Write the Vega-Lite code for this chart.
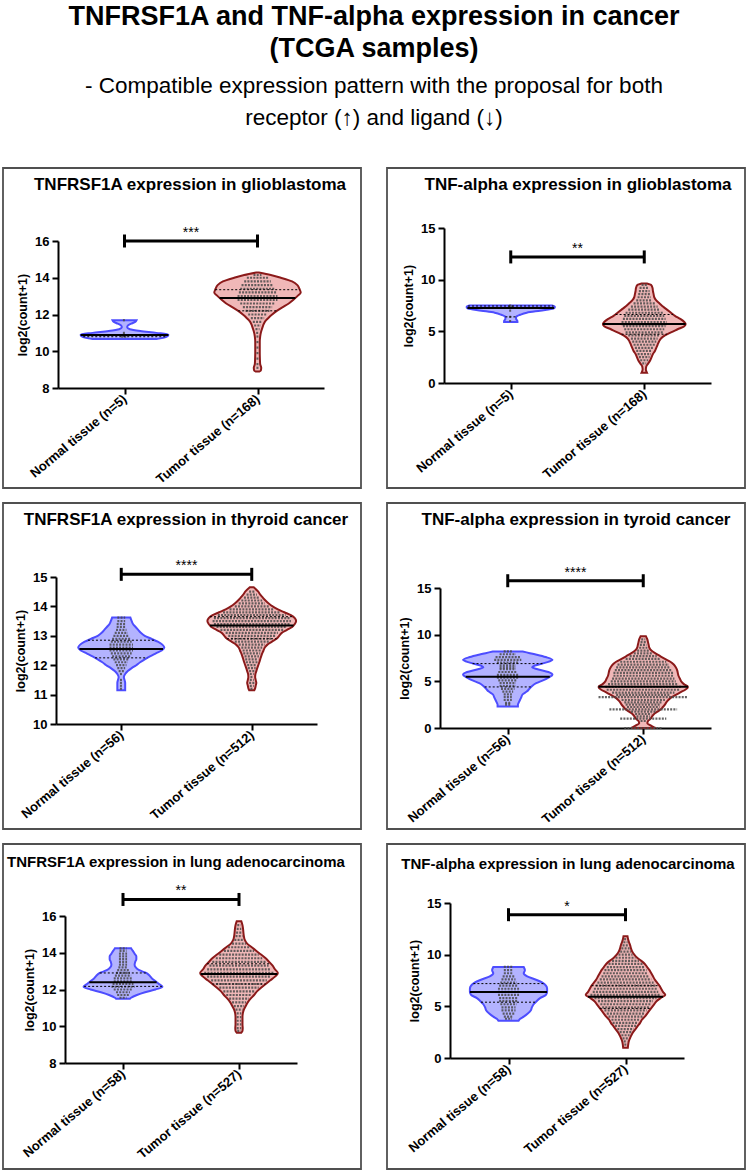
{
"$schema": "https://vega.github.io/schema/vega-lite/v6.json",
"background": "white",
"padding": {"left": 2, "top": 2, "right": 0, "bottom": 0},
"title": {"text": ["TNFRSF1A and TNF-alpha expression in cancer", "(TCGA samples)"], "subtitle": ["- Compatible expression pattern with the proposal for both", "receptor  (↑) and ligand (↓)"], "anchor": "middle", "font": "Liberation Sans", "fontSize": 27, "fontWeight": "bold", "lineHeight": 32, "color": "black", "subtitleFont": "Liberation Sans", "subtitleFontSize": 22.5, "subtitleLineHeight": 32, "subtitleColor": "black", "subtitlePadding": 12, "offset": 37},
"columns": 2,
"spacing": {"row": 15, "column": 26},
"bounds": "flush",
"concat": [
{"width": 358, "height": 320,
 "title": {"text": "TNFRSF1A expression in glioblastoma", "anchor": "middle", "frame": "group", "offset": -23, "dy": 16, "baseline": "alphabetic", "dx": 8},
 "layer": [
  {"data": {"name": "outline"}, "transform": [{"filter": "datum.p == 1"}],
   "mark": {"type": "area", "orient": "horizontal", "interpolate": "monotone", "strokeWidth": 2},
   "encoding": {
    "y": {"field": "v", "type": "quantitative", "scale": {"domain": [8, 16], "range": [220, 73], "nice": false, "zero": false}, "axis": {"title": "log2(count+1)", "values": [8, 10, 12, 14, 16], "format": "d", "offset": -55}},
    "x": {"field": "l", "type": "quantitative", "scale": {"domain": [0.5, 2.5], "range": [55, 321], "nice": false, "zero": false}, "axis": {"title": null, "values": [1, 2], "offset": -100, "labelExpr": "datum.value == 1 ? 'Normal tissue (n=5)' : 'Tumor tissue (n=168)'"}},
    "x2": {"field": "r"}, "detail": {"field": "g"},
    "fill": {"field": "g", "type": "nominal", "scale": {"domain": ["N", "T"], "range": ["#b3b3ff", "#f0b8b8"]}, "legend": null},
    "stroke": {"field": "g", "type": "nominal", "scale": {"domain": ["N", "T"], "range": ["#4d4dff", "#8b1a1a"]}, "legend": null}}},
  {"data": {"name": "outline"}, "transform": [{"filter": "datum.p == 1 && datum.dr > datum.dl"}],
   "mark": {"type": "rule", "color": "#4a4a4a", "strokeWidth": 2.2, "strokeDash": [2, 1.2], "opacity": 0.85},
   "encoding": {"y": {"field": "v", "type": "quantitative"}, "x": {"field": "dl", "type": "quantitative"}, "x2": {"field": "dr"}}},
  {"data": {"name": "stats"}, "transform": [{"filter": "datum.p == 1 && datum.k == 'q'"}],
   "mark": {"type": "rule", "color": "black", "strokeWidth": 1, "strokeDash": [2, 2]},
   "encoding": {"y": {"field": "v", "type": "quantitative"}, "x": {"field": "l", "type": "quantitative"}, "x2": {"field": "r"}}},
  {"data": {"name": "stats"}, "transform": [{"filter": "datum.p == 1 && datum.k == 'med'"}],
   "mark": {"type": "rule", "color": "black", "strokeWidth": 2},
   "encoding": {"y": {"field": "v", "type": "quantitative"}, "x": {"field": "l", "type": "quantitative"}, "x2": {"field": "r"}}},
  {"data": {"name": "brackets"}, "transform": [{"filter": "datum.p == 1"}],
   "mark": {"type": "rule", "color": "black", "strokeWidth": 3},
   "encoding": {"y": {"field": "v", "type": "quantitative"}, "x": {"field": "a", "type": "quantitative"}, "x2": {"field": "b"}}},
  {"data": {"name": "brackets"}, "transform": [{"filter": "datum.p == 1"}, {"fold": ["a", "b"], "as": ["end", "pos"]}],
   "mark": {"type": "tick", "orient": "vertical", "color": "black", "size": 13, "thickness": 3, "opacity": 1},
   "encoding": {"y": {"field": "v", "type": "quantitative"}, "x": {"field": "pos", "type": "quantitative"}}},
  {"data": {"name": "brackets"}, "transform": [{"filter": "datum.p == 1"}],
   "mark": {"type": "text", "font": "Liberation Sans", "fontSize": 14, "dy": -4, "baseline": "alphabetic", "color": "black"},
   "encoding": {"y": {"field": "v", "type": "quantitative"}, "x": {"field": "m", "type": "quantitative"}, "text": {"field": "s"}}}
 ]},
{"width": 358, "height": 320,
 "title": {"text": "TNF-alpha expression in glioblastoma", "anchor": "middle", "frame": "group", "offset": -23, "dy": 16, "baseline": "alphabetic", "dx": 12},
 "layer": [
  {"data": {"name": "outline"}, "transform": [{"filter": "datum.p == 2"}],
   "mark": {"type": "area", "orient": "horizontal", "interpolate": "monotone", "strokeWidth": 2},
   "encoding": {
    "y": {"field": "v", "type": "quantitative", "scale": {"domain": [0, 15], "range": [215, 60], "nice": false, "zero": false}, "axis": {"title": "log2(count+1)", "values": [0, 5, 10, 15], "format": "d", "offset": -57}},
    "x": {"field": "l", "type": "quantitative", "scale": {"domain": [0.5, 2.5], "range": [57, 324], "nice": false, "zero": false}, "axis": {"title": null, "values": [1, 2], "offset": -105, "labelExpr": "datum.value == 1 ? 'Normal tissue (n=5)' : 'Tumor tissue (n=168)'"}},
    "x2": {"field": "r"}, "detail": {"field": "g"},
    "fill": {"field": "g", "type": "nominal", "scale": {"domain": ["N", "T"], "range": ["#b3b3ff", "#f0b8b8"]}, "legend": null},
    "stroke": {"field": "g", "type": "nominal", "scale": {"domain": ["N", "T"], "range": ["#4d4dff", "#8b1a1a"]}, "legend": null}}},
  {"data": {"name": "outline"}, "transform": [{"filter": "datum.p == 2 && datum.dr > datum.dl"}],
   "mark": {"type": "rule", "color": "#4a4a4a", "strokeWidth": 2.2, "strokeDash": [2, 1.2], "opacity": 0.85},
   "encoding": {"y": {"field": "v", "type": "quantitative"}, "x": {"field": "dl", "type": "quantitative"}, "x2": {"field": "dr"}}},
  {"data": {"name": "stats"}, "transform": [{"filter": "datum.p == 2 && datum.k == 'q'"}],
   "mark": {"type": "rule", "color": "black", "strokeWidth": 1, "strokeDash": [2, 2]},
   "encoding": {"y": {"field": "v", "type": "quantitative"}, "x": {"field": "l", "type": "quantitative"}, "x2": {"field": "r"}}},
  {"data": {"name": "stats"}, "transform": [{"filter": "datum.p == 2 && datum.k == 'med'"}],
   "mark": {"type": "rule", "color": "black", "strokeWidth": 2},
   "encoding": {"y": {"field": "v", "type": "quantitative"}, "x": {"field": "l", "type": "quantitative"}, "x2": {"field": "r"}}},
  {"data": {"name": "brackets"}, "transform": [{"filter": "datum.p == 2"}],
   "mark": {"type": "rule", "color": "black", "strokeWidth": 3},
   "encoding": {"y": {"field": "v", "type": "quantitative"}, "x": {"field": "a", "type": "quantitative"}, "x2": {"field": "b"}}},
  {"data": {"name": "brackets"}, "transform": [{"filter": "datum.p == 2"}, {"fold": ["a", "b"], "as": ["end", "pos"]}],
   "mark": {"type": "tick", "orient": "vertical", "color": "black", "size": 13, "thickness": 3, "opacity": 1},
   "encoding": {"y": {"field": "v", "type": "quantitative"}, "x": {"field": "pos", "type": "quantitative"}}},
  {"data": {"name": "brackets"}, "transform": [{"filter": "datum.p == 2"}],
   "mark": {"type": "text", "font": "Liberation Sans", "fontSize": 14, "dy": -4, "baseline": "alphabetic", "color": "black"},
   "encoding": {"y": {"field": "v", "type": "quantitative"}, "x": {"field": "m", "type": "quantitative"}, "text": {"field": "s"}}}
 ]},
{"width": 358, "height": 326,
 "title": {"text": "TNFRSF1A expression in thyroid cancer", "anchor": "middle", "frame": "group", "offset": -23, "dy": 16, "baseline": "alphabetic", "dx": 4},
 "layer": [
  {"data": {"name": "outline"}, "transform": [{"filter": "datum.p == 3"}],
   "mark": {"type": "area", "orient": "horizontal", "interpolate": "monotone", "strokeWidth": 2},
   "encoding": {
    "y": {"field": "v", "type": "quantitative", "scale": {"domain": [10, 15], "range": [221, 74], "nice": false, "zero": false}, "axis": {"title": "log2(count+1)", "values": [10, 11, 12, 13, 14, 15], "format": "d", "offset": -53}},
    "x": {"field": "l", "type": "quantitative", "scale": {"domain": [0.5, 2.5], "range": [53, 314], "nice": false, "zero": false}, "axis": {"title": null, "values": [1, 2], "offset": -105, "labelExpr": "datum.value == 1 ? 'Normal tissue (n=56)' : 'Tumor tissue (n=512)'"}},
    "x2": {"field": "r"}, "detail": {"field": "g"},
    "fill": {"field": "g", "type": "nominal", "scale": {"domain": ["N", "T"], "range": ["#b3b3ff", "#f0b8b8"]}, "legend": null},
    "stroke": {"field": "g", "type": "nominal", "scale": {"domain": ["N", "T"], "range": ["#4d4dff", "#8b1a1a"]}, "legend": null}}},
  {"data": {"name": "outline"}, "transform": [{"filter": "datum.p == 3 && datum.dr > datum.dl"}],
   "mark": {"type": "rule", "color": "#4a4a4a", "strokeWidth": 2.2, "strokeDash": [2, 1.2], "opacity": 0.85},
   "encoding": {"y": {"field": "v", "type": "quantitative"}, "x": {"field": "dl", "type": "quantitative"}, "x2": {"field": "dr"}}},
  {"data": {"name": "stats"}, "transform": [{"filter": "datum.p == 3 && datum.k == 'q'"}],
   "mark": {"type": "rule", "color": "black", "strokeWidth": 1, "strokeDash": [2, 2]},
   "encoding": {"y": {"field": "v", "type": "quantitative"}, "x": {"field": "l", "type": "quantitative"}, "x2": {"field": "r"}}},
  {"data": {"name": "stats"}, "transform": [{"filter": "datum.p == 3 && datum.k == 'med'"}],
   "mark": {"type": "rule", "color": "black", "strokeWidth": 2},
   "encoding": {"y": {"field": "v", "type": "quantitative"}, "x": {"field": "l", "type": "quantitative"}, "x2": {"field": "r"}}},
  {"data": {"name": "brackets"}, "transform": [{"filter": "datum.p == 3"}],
   "mark": {"type": "rule", "color": "black", "strokeWidth": 3},
   "encoding": {"y": {"field": "v", "type": "quantitative"}, "x": {"field": "a", "type": "quantitative"}, "x2": {"field": "b"}}},
  {"data": {"name": "brackets"}, "transform": [{"filter": "datum.p == 3"}, {"fold": ["a", "b"], "as": ["end", "pos"]}],
   "mark": {"type": "tick", "orient": "vertical", "color": "black", "size": 13, "thickness": 3, "opacity": 1},
   "encoding": {"y": {"field": "v", "type": "quantitative"}, "x": {"field": "pos", "type": "quantitative"}}},
  {"data": {"name": "brackets"}, "transform": [{"filter": "datum.p == 3"}],
   "mark": {"type": "text", "font": "Liberation Sans", "fontSize": 14, "dy": -4, "baseline": "alphabetic", "color": "black"},
   "encoding": {"y": {"field": "v", "type": "quantitative"}, "x": {"field": "m", "type": "quantitative"}, "text": {"field": "s"}}}
 ]},
{"width": 358, "height": 326,
 "title": {"text": "TNF-alpha expression in tyroid cancer", "anchor": "middle", "frame": "group", "offset": -23, "dy": 16, "baseline": "alphabetic", "dx": 10},
 "layer": [
  {"data": {"name": "outline"}, "transform": [{"filter": "datum.p == 4"}],
   "mark": {"type": "area", "orient": "horizontal", "interpolate": "monotone", "strokeWidth": 2},
   "encoding": {
    "y": {"field": "v", "type": "quantitative", "scale": {"domain": [0, 15], "range": [225, 85], "nice": false, "zero": false}, "axis": {"title": "log2(count+1)", "values": [0, 5, 10, 15], "format": "d", "offset": -53}},
    "x": {"field": "l", "type": "quantitative", "scale": {"domain": [0.5, 2.5], "range": [53, 324], "nice": false, "zero": false}, "axis": {"title": null, "values": [1, 2], "offset": -101, "labelExpr": "datum.value == 1 ? 'Normal tissue (n=56)' : 'Tumor tissue (n=512)'"}},
    "x2": {"field": "r"}, "detail": {"field": "g"},
    "fill": {"field": "g", "type": "nominal", "scale": {"domain": ["N", "T"], "range": ["#b3b3ff", "#f0b8b8"]}, "legend": null},
    "stroke": {"field": "g", "type": "nominal", "scale": {"domain": ["N", "T"], "range": ["#4d4dff", "#8b1a1a"]}, "legend": null}}},
  {"data": {"name": "outline"}, "transform": [{"filter": "datum.p == 4 && datum.dr > datum.dl"}],
   "mark": {"type": "rule", "color": "#4a4a4a", "strokeWidth": 2.2, "strokeDash": [2, 1.2], "opacity": 0.85},
   "encoding": {"y": {"field": "v", "type": "quantitative"}, "x": {"field": "dl", "type": "quantitative"}, "x2": {"field": "dr"}}},
  {"data": {"name": "stats"}, "transform": [{"filter": "datum.p == 4 && datum.k == 'q'"}],
   "mark": {"type": "rule", "color": "black", "strokeWidth": 1, "strokeDash": [2, 2]},
   "encoding": {"y": {"field": "v", "type": "quantitative"}, "x": {"field": "l", "type": "quantitative"}, "x2": {"field": "r"}}},
  {"data": {"name": "stats"}, "transform": [{"filter": "datum.p == 4 && datum.k == 'med'"}],
   "mark": {"type": "rule", "color": "black", "strokeWidth": 2},
   "encoding": {"y": {"field": "v", "type": "quantitative"}, "x": {"field": "l", "type": "quantitative"}, "x2": {"field": "r"}}},
  {"data": {"name": "brackets"}, "transform": [{"filter": "datum.p == 4"}],
   "mark": {"type": "rule", "color": "black", "strokeWidth": 3},
   "encoding": {"y": {"field": "v", "type": "quantitative"}, "x": {"field": "a", "type": "quantitative"}, "x2": {"field": "b"}}},
  {"data": {"name": "brackets"}, "transform": [{"filter": "datum.p == 4"}, {"fold": ["a", "b"], "as": ["end", "pos"]}],
   "mark": {"type": "tick", "orient": "vertical", "color": "black", "size": 13, "thickness": 3, "opacity": 1},
   "encoding": {"y": {"field": "v", "type": "quantitative"}, "x": {"field": "pos", "type": "quantitative"}}},
  {"data": {"name": "brackets"}, "transform": [{"filter": "datum.p == 4"}],
   "mark": {"type": "text", "font": "Liberation Sans", "fontSize": 14, "dy": -4, "baseline": "alphabetic", "color": "black"},
   "encoding": {"y": {"field": "v", "type": "quantitative"}, "x": {"field": "m", "type": "quantitative"}, "text": {"field": "s"}}}
 ]},
{"width": 358, "height": 325,
 "title": {"text": "TNFRSF1A expression in lung adenocarcinoma", "anchor": "middle", "frame": "group", "offset": -22, "dy": 16, "baseline": "alphabetic", "dx": -6, "fontSize": 15},
 "layer": [
  {"data": {"name": "outline"}, "transform": [{"filter": "datum.p == 5"}],
   "mark": {"type": "area", "orient": "horizontal", "interpolate": "monotone", "strokeWidth": 2},
   "encoding": {
    "y": {"field": "v", "type": "quantitative", "scale": {"domain": [8, 16], "range": [219, 72], "nice": false, "zero": false}, "axis": {"title": "log2(count+1)", "values": [8, 10, 12, 14, 16], "format": "d", "offset": -62}},
    "x": {"field": "l", "type": "quantitative", "scale": {"domain": [0.5, 2.5], "range": [62, 294], "nice": false, "zero": false}, "axis": {"title": null, "values": [1, 2], "offset": -106, "labelExpr": "datum.value == 1 ? 'Normal tissue (n=58)' : 'Tumor tissue (n=527)'"}},
    "x2": {"field": "r"}, "detail": {"field": "g"},
    "fill": {"field": "g", "type": "nominal", "scale": {"domain": ["N", "T"], "range": ["#b3b3ff", "#f0b8b8"]}, "legend": null},
    "stroke": {"field": "g", "type": "nominal", "scale": {"domain": ["N", "T"], "range": ["#4d4dff", "#8b1a1a"]}, "legend": null}}},
  {"data": {"name": "outline"}, "transform": [{"filter": "datum.p == 5 && datum.dr > datum.dl"}],
   "mark": {"type": "rule", "color": "#4a4a4a", "strokeWidth": 2.2, "strokeDash": [2, 1.2], "opacity": 0.85},
   "encoding": {"y": {"field": "v", "type": "quantitative"}, "x": {"field": "dl", "type": "quantitative"}, "x2": {"field": "dr"}}},
  {"data": {"name": "stats"}, "transform": [{"filter": "datum.p == 5 && datum.k == 'q'"}],
   "mark": {"type": "rule", "color": "black", "strokeWidth": 1, "strokeDash": [2, 2]},
   "encoding": {"y": {"field": "v", "type": "quantitative"}, "x": {"field": "l", "type": "quantitative"}, "x2": {"field": "r"}}},
  {"data": {"name": "stats"}, "transform": [{"filter": "datum.p == 5 && datum.k == 'med'"}],
   "mark": {"type": "rule", "color": "black", "strokeWidth": 2},
   "encoding": {"y": {"field": "v", "type": "quantitative"}, "x": {"field": "l", "type": "quantitative"}, "x2": {"field": "r"}}},
  {"data": {"name": "brackets"}, "transform": [{"filter": "datum.p == 5"}],
   "mark": {"type": "rule", "color": "black", "strokeWidth": 3},
   "encoding": {"y": {"field": "v", "type": "quantitative"}, "x": {"field": "a", "type": "quantitative"}, "x2": {"field": "b"}}},
  {"data": {"name": "brackets"}, "transform": [{"filter": "datum.p == 5"}, {"fold": ["a", "b"], "as": ["end", "pos"]}],
   "mark": {"type": "tick", "orient": "vertical", "color": "black", "size": 13, "thickness": 3, "opacity": 1},
   "encoding": {"y": {"field": "v", "type": "quantitative"}, "x": {"field": "pos", "type": "quantitative"}}},
  {"data": {"name": "brackets"}, "transform": [{"filter": "datum.p == 5"}],
   "mark": {"type": "text", "font": "Liberation Sans", "fontSize": 14, "dy": -4, "baseline": "alphabetic", "color": "black"},
   "encoding": {"y": {"field": "v", "type": "quantitative"}, "x": {"field": "m", "type": "quantitative"}, "text": {"field": "s"}}}
 ]},
{"width": 358, "height": 325,
 "title": {"text": "TNF-alpha expression in lung adenocarcinoma", "anchor": "middle", "frame": "group", "offset": -24, "dy": 16, "baseline": "alphabetic", "dx": 2, "fontSize": 15},
 "layer": [
  {"data": {"name": "outline"}, "transform": [{"filter": "datum.p == 6"}],
   "mark": {"type": "area", "orient": "horizontal", "interpolate": "monotone", "strokeWidth": 2},
   "encoding": {
    "y": {"field": "v", "type": "quantitative", "scale": {"domain": [0, 15], "range": [214, 59], "nice": false, "zero": false}, "axis": {"title": "log2(count+1)", "values": [0, 5, 10, 15], "format": "d", "offset": -63}},
    "x": {"field": "l", "type": "quantitative", "scale": {"domain": [0.5, 2.5], "range": [63, 297], "nice": false, "zero": false}, "axis": {"title": null, "values": [1, 2], "offset": -111, "labelExpr": "datum.value == 1 ? 'Normal tissue (n=58)' : 'Tumor tissue (n=527)'"}},
    "x2": {"field": "r"}, "detail": {"field": "g"},
    "fill": {"field": "g", "type": "nominal", "scale": {"domain": ["N", "T"], "range": ["#b3b3ff", "#f0b8b8"]}, "legend": null},
    "stroke": {"field": "g", "type": "nominal", "scale": {"domain": ["N", "T"], "range": ["#4d4dff", "#8b1a1a"]}, "legend": null}}},
  {"data": {"name": "outline"}, "transform": [{"filter": "datum.p == 6 && datum.dr > datum.dl"}],
   "mark": {"type": "rule", "color": "#4a4a4a", "strokeWidth": 2.2, "strokeDash": [2, 1.2], "opacity": 0.85},
   "encoding": {"y": {"field": "v", "type": "quantitative"}, "x": {"field": "dl", "type": "quantitative"}, "x2": {"field": "dr"}}},
  {"data": {"name": "stats"}, "transform": [{"filter": "datum.p == 6 && datum.k == 'q'"}],
   "mark": {"type": "rule", "color": "black", "strokeWidth": 1, "strokeDash": [2, 2]},
   "encoding": {"y": {"field": "v", "type": "quantitative"}, "x": {"field": "l", "type": "quantitative"}, "x2": {"field": "r"}}},
  {"data": {"name": "stats"}, "transform": [{"filter": "datum.p == 6 && datum.k == 'med'"}],
   "mark": {"type": "rule", "color": "black", "strokeWidth": 2},
   "encoding": {"y": {"field": "v", "type": "quantitative"}, "x": {"field": "l", "type": "quantitative"}, "x2": {"field": "r"}}},
  {"data": {"name": "brackets"}, "transform": [{"filter": "datum.p == 6"}],
   "mark": {"type": "rule", "color": "black", "strokeWidth": 3},
   "encoding": {"y": {"field": "v", "type": "quantitative"}, "x": {"field": "a", "type": "quantitative"}, "x2": {"field": "b"}}},
  {"data": {"name": "brackets"}, "transform": [{"filter": "datum.p == 6"}, {"fold": ["a", "b"], "as": ["end", "pos"]}],
   "mark": {"type": "tick", "orient": "vertical", "color": "black", "size": 13, "thickness": 3, "opacity": 1},
   "encoding": {"y": {"field": "v", "type": "quantitative"}, "x": {"field": "pos", "type": "quantitative"}}},
  {"data": {"name": "brackets"}, "transform": [{"filter": "datum.p == 6"}],
   "mark": {"type": "text", "font": "Liberation Sans", "fontSize": 14, "dy": -4, "baseline": "alphabetic", "color": "black"},
   "encoding": {"y": {"field": "v", "type": "quantitative"}, "x": {"field": "m", "type": "quantitative"}, "text": {"field": "s"}}}
 ]}
],
"datasets": {
"brackets": [
 {"p": 1, "a": 1, "b": 2, "m": 1.5, "v": 16, "s": "***"},
 {"p": 2, "a": 1, "b": 2, "m": 1.5, "v": 12.2, "s": "**"},
 {"p": 3, "a": 1, "b": 2, "m": 1.5, "v": 15.09, "s": "****"},
 {"p": 4, "a": 1, "b": 2, "m": 1.5, "v": 15.78, "s": "****"},
 {"p": 5, "a": 1, "b": 2, "m": 1.5, "v": 16.9, "s": "**"},
 {"p": 6, "a": 1, "b": 2, "m": 1.5, "v": 13.87, "s": "*"}
],
"stats": [
 {"p": 1, "k": "med", "v": 10.88, "l": 0.67, "r": 1.33},
 {"p": 1, "k": "q", "v": 10.79, "l": 0.69, "r": 1.31},
 {"p": 1, "k": "med", "v": 12.9, "l": 1.715, "r": 2.285},
 {"p": 1, "k": "q", "v": 13.35, "l": 1.682, "r": 2.318},
 {"p": 1, "k": "q", "v": 12.2, "l": 1.855, "r": 2.145},
 {"p": 2, "k": "med", "v": 7.25, "l": 0.675, "r": 1.325},
 {"p": 2, "k": "q", "v": 7.45, "l": 0.68, "r": 1.32},
 {"p": 2, "k": "q", "v": 6.4, "l": 0.96, "r": 1.04},
 {"p": 2, "k": "med", "v": 5.7, "l": 1.69, "r": 2.31},
 {"p": 2, "k": "q", "v": 6.63, "l": 1.785, "r": 2.215},
 {"p": 2, "k": "q", "v": 4.72, "l": 1.83, "r": 2.17},
 {"p": 3, "k": "med", "v": 12.55, "l": 0.68, "r": 1.32},
 {"p": 3, "k": "q", "v": 12.85, "l": 0.745, "r": 1.255},
 {"p": 3, "k": "q", "v": 12.25, "l": 0.8, "r": 1.2},
 {"p": 3, "k": "med", "v": 13.35, "l": 1.68, "r": 2.32},
 {"p": 3, "k": "q", "v": 13.65, "l": 1.68, "r": 2.32},
 {"p": 3, "k": "q", "v": 12.9, "l": 1.81, "r": 2.19},
 {"p": 4, "k": "med", "v": 5.5, "l": 0.69, "r": 1.31},
 {"p": 4, "k": "q", "v": 6.9, "l": 0.74, "r": 1.26},
 {"p": 4, "k": "q", "v": 4.4, "l": 0.83, "r": 1.17},
 {"p": 4, "k": "med", "v": 4.43, "l": 1.67, "r": 2.33},
 {"p": 5, "k": "med", "v": 12.4, "l": 0.71, "r": 1.29},
 {"p": 5, "k": "q", "v": 12.9, "l": 0.8, "r": 1.2},
 {"p": 5, "k": "q", "v": 12.17, "l": 0.665, "r": 1.335},
 {"p": 5, "k": "med", "v": 12.85, "l": 1.67, "r": 2.33},
 {"p": 5, "k": "q", "v": 13.4, "l": 1.725, "r": 2.275},
 {"p": 5, "k": "q", "v": 12.3, "l": 1.77, "r": 2.23},
 {"p": 6, "k": "med", "v": 6.38, "l": 0.67, "r": 1.33},
 {"p": 6, "k": "q", "v": 7.2, "l": 0.7, "r": 1.3},
 {"p": 6, "k": "q", "v": 5.4, "l": 0.765, "r": 1.235},
 {"p": 6, "k": "med", "v": 5.93, "l": 1.68, "r": 2.32},
 {"p": 6, "k": "q", "v": 7.0, "l": 1.71, "r": 2.29},
 {"p": 6, "k": "q", "v": 4.8, "l": 1.78, "r": 2.22}
],
"outline": [
 {"p":1,"g":"N","v":11.69,"l":0.91,"r":1.09,"dl":0.988,"dr":1.012},
 {"p":1,"g":"N","v":11.6,"l":0.92,"r":1.08},
 {"p":1,"g":"N","v":11.5,"l":0.95,"r":1.05},
 {"p":1,"g":"N","v":11.4,"l":0.975,"r":1.025},
 {"p":1,"g":"N","v":11.3,"l":0.98,"r":1.02},
 {"p":1,"g":"N","v":11.2,"l":0.96,"r":1.04},
 {"p":1,"g":"N","v":11.1,"l":0.88,"r":1.12},
 {"p":1,"g":"N","v":11.0,"l":0.76,"r":1.24,"dl":0.988,"dr":1.012},
 {"p":1,"g":"N","v":10.9,"l":0.67,"r":1.33,"dl":0.988,"dr":1.012},
 {"p":1,"g":"N","v":10.8,"l":0.68,"r":1.32,"dl":0.975,"dr":1.025},
 {"p":1,"g":"N","v":10.7,"l":0.73,"r":1.27},
 {"p":1,"g":"N","v":10.66,"l":0.76,"r":1.24},
 {"p":1,"g":"T","v":14.28,"l":1.99,"r":2.01},
 {"p":1,"g":"T","v":14.15,"l":1.9,"r":2.1,"dl":1.97,"dr":2.03},
 {"p":1,"g":"T","v":14.0,"l":1.825,"r":2.175,"dl":1.92,"dr":2.08},
 {"p":1,"g":"T","v":13.8,"l":1.74,"r":2.26,"dl":1.9,"dr":2.1},
 {"p":1,"g":"T","v":13.6,"l":1.7,"r":2.3,"dl":1.88,"dr":2.12},
 {"p":1,"g":"T","v":13.4,"l":1.685,"r":2.315,"dl":1.87,"dr":2.13},
 {"p":1,"g":"T","v":13.2,"l":1.675,"r":2.325,"dl":1.86,"dr":2.14},
 {"p":1,"g":"T","v":13.0,"l":1.7,"r":2.3,"dl":1.85,"dr":2.15},
 {"p":1,"g":"T","v":12.8,"l":1.73,"r":2.27,"dl":1.85,"dr":2.15},
 {"p":1,"g":"T","v":12.6,"l":1.765,"r":2.235,"dl":1.87,"dr":2.13},
 {"p":1,"g":"T","v":12.4,"l":1.81,"r":2.19,"dl":1.89,"dr":2.11},
 {"p":1,"g":"T","v":12.2,"l":1.855,"r":2.145,"dl":1.91,"dr":2.09},
 {"p":1,"g":"T","v":12.0,"l":1.89,"r":2.11,"dl":1.93,"dr":2.07},
 {"p":1,"g":"T","v":11.8,"l":1.92,"r":2.08,"dl":1.95,"dr":2.05},
 {"p":1,"g":"T","v":11.6,"l":1.945,"r":2.055,"dl":1.965,"dr":2.035},
 {"p":1,"g":"T","v":11.4,"l":1.958,"r":2.042,"dl":1.975,"dr":2.025},
 {"p":1,"g":"T","v":11.2,"l":1.967,"r":2.033,"dl":1.985,"dr":2.015},
 {"p":1,"g":"T","v":11.0,"l":1.975,"r":2.025,"dl":1.99,"dr":2.01},
 {"p":1,"g":"T","v":10.8,"l":1.98,"r":2.02,"dl":1.992,"dr":2.008},
 {"p":1,"g":"T","v":10.5,"l":1.983,"r":2.017,"dl":1.992,"dr":2.008},
 {"p":1,"g":"T","v":10.2,"l":1.983,"r":2.017,"dl":1.992,"dr":2.008},
 {"p":1,"g":"T","v":9.9,"l":1.983,"r":2.017,"dl":1.992,"dr":2.008},
 {"p":1,"g":"T","v":9.6,"l":1.982,"r":2.018,"dl":1.992,"dr":2.008},
 {"p":1,"g":"T","v":9.3,"l":1.98,"r":2.02,"dl":1.992,"dr":2.008},
 {"p":1,"g":"T","v":9.1,"l":1.972,"r":2.028,"dl":1.992,"dr":2.008},
 {"p":1,"g":"T","v":8.95,"l":1.975,"r":2.025},
 {"p":1,"g":"T","v":8.9,"l":1.985,"r":2.015},
 {"p":2,"g":"N","v":7.5,"l":0.69,"r":1.31,"dl":0.988,"dr":1.012},
 {"p":2,"g":"N","v":7.4,"l":0.67,"r":1.33,"dl":0.98,"dr":1.02},
 {"p":2,"g":"N","v":7.3,"l":0.67,"r":1.33,"dl":0.988,"dr":1.012},
 {"p":2,"g":"N","v":7.2,"l":0.68,"r":1.32},
 {"p":2,"g":"N","v":7.0,"l":0.78,"r":1.22,"dl":0.988,"dr":1.012},
 {"p":2,"g":"N","v":6.8,"l":0.88,"r":1.12},
 {"p":2,"g":"N","v":6.6,"l":0.93,"r":1.07},
 {"p":2,"g":"N","v":6.4,"l":0.96,"r":1.04,"dl":0.988,"dr":1.012},
 {"p":2,"g":"N","v":6.2,"l":0.96,"r":1.04},
 {"p":2,"g":"N","v":6.0,"l":0.95,"r":1.05,"dl":0.988,"dr":1.012},
 {"p":2,"g":"N","v":5.9,"l":0.95,"r":1.05},
 {"p":2,"g":"T","v":9.63,"l":1.98,"r":2.02},
 {"p":2,"g":"T","v":9.5,"l":1.95,"r":2.05,"dl":1.98,"dr":2.02},
 {"p":2,"g":"T","v":9.2,"l":1.938,"r":2.062,"dl":1.965,"dr":2.035},
 {"p":2,"g":"T","v":8.9,"l":1.935,"r":2.065,"dl":1.96,"dr":2.04},
 {"p":2,"g":"T","v":8.6,"l":1.93,"r":2.07,"dl":1.955,"dr":2.045},
 {"p":2,"g":"T","v":8.3,"l":1.925,"r":2.075,"dl":1.95,"dr":2.05},
 {"p":2,"g":"T","v":8.0,"l":1.91,"r":2.09,"dl":1.94,"dr":2.06},
 {"p":2,"g":"T","v":7.7,"l":1.885,"r":2.115,"dl":1.92,"dr":2.08},
 {"p":2,"g":"T","v":7.4,"l":1.86,"r":2.14,"dl":1.9,"dr":2.1},
 {"p":2,"g":"T","v":7.1,"l":1.83,"r":2.17,"dl":1.88,"dr":2.12},
 {"p":2,"g":"T","v":6.8,"l":1.8,"r":2.2,"dl":1.86,"dr":2.14},
 {"p":2,"g":"T","v":6.5,"l":1.77,"r":2.23,"dl":1.85,"dr":2.15},
 {"p":2,"g":"T","v":6.2,"l":1.73,"r":2.27,"dl":1.84,"dr":2.16},
 {"p":2,"g":"T","v":5.9,"l":1.7,"r":2.3,"dl":1.83,"dr":2.17},
 {"p":2,"g":"T","v":5.7,"l":1.69,"r":2.31,"dl":1.83,"dr":2.17},
 {"p":2,"g":"T","v":5.5,"l":1.7,"r":2.3,"dl":1.84,"dr":2.16},
 {"p":2,"g":"T","v":5.2,"l":1.75,"r":2.25,"dl":1.85,"dr":2.15},
 {"p":2,"g":"T","v":4.9,"l":1.8,"r":2.2,"dl":1.86,"dr":2.14},
 {"p":2,"g":"T","v":4.6,"l":1.845,"r":2.155,"dl":1.88,"dr":2.12},
 {"p":2,"g":"T","v":4.3,"l":1.875,"r":2.125,"dl":1.9,"dr":2.1},
 {"p":2,"g":"T","v":4.0,"l":1.89,"r":2.11,"dl":1.91,"dr":2.09},
 {"p":2,"g":"T","v":3.7,"l":1.9,"r":2.1,"dl":1.92,"dr":2.08},
 {"p":2,"g":"T","v":3.4,"l":1.91,"r":2.09,"dl":1.93,"dr":2.07},
 {"p":2,"g":"T","v":3.1,"l":1.92,"r":2.08,"dl":1.94,"dr":2.06},
 {"p":2,"g":"T","v":2.8,"l":1.935,"r":2.065,"dl":1.95,"dr":2.05},
 {"p":2,"g":"T","v":2.5,"l":1.945,"r":2.055,"dl":1.96,"dr":2.04},
 {"p":2,"g":"T","v":2.2,"l":1.955,"r":2.045,"dl":1.97,"dr":2.03},
 {"p":2,"g":"T","v":1.9,"l":1.97,"r":2.03,"dl":1.985,"dr":2.015},
 {"p":2,"g":"T","v":1.6,"l":1.985,"r":2.015},
 {"p":2,"g":"T","v":1.3,"l":1.988,"r":2.012},
 {"p":2,"g":"T","v":1.0,"l":1.98,"r":2.02},
 {"p":3,"g":"N","v":13.62,"l":0.93,"r":1.07,"dl":0.97,"dr":1.03},
 {"p":3,"g":"N","v":13.5,"l":0.92,"r":1.08,"dl":0.97,"dr":1.03},
 {"p":3,"g":"N","v":13.4,"l":0.91,"r":1.09,"dl":0.965,"dr":1.035},
 {"p":3,"g":"N","v":13.3,"l":0.89,"r":1.11,"dl":0.965,"dr":1.035},
 {"p":3,"g":"N","v":13.2,"l":0.87,"r":1.13,"dl":0.96,"dr":1.04},
 {"p":3,"g":"N","v":13.1,"l":0.85,"r":1.15,"dl":0.95,"dr":1.05},
 {"p":3,"g":"N","v":13.0,"l":0.82,"r":1.18,"dl":0.94,"dr":1.06},
 {"p":3,"g":"N","v":12.9,"l":0.77,"r":1.23,"dl":0.93,"dr":1.07},
 {"p":3,"g":"N","v":12.8,"l":0.72,"r":1.28,"dl":0.92,"dr":1.08},
 {"p":3,"g":"N","v":12.7,"l":0.685,"r":1.315,"dl":0.91,"dr":1.09},
 {"p":3,"g":"N","v":12.6,"l":0.67,"r":1.33,"dl":0.91,"dr":1.09},
 {"p":3,"g":"N","v":12.5,"l":0.69,"r":1.31,"dl":0.91,"dr":1.09},
 {"p":3,"g":"N","v":12.4,"l":0.735,"r":1.265,"dl":0.92,"dr":1.08},
 {"p":3,"g":"N","v":12.3,"l":0.78,"r":1.22,"dl":0.93,"dr":1.07},
 {"p":3,"g":"N","v":12.2,"l":0.82,"r":1.18,"dl":0.94,"dr":1.06},
 {"p":3,"g":"N","v":12.1,"l":0.855,"r":1.145,"dl":0.95,"dr":1.05},
 {"p":3,"g":"N","v":12.0,"l":0.885,"r":1.115,"dl":0.96,"dr":1.04},
 {"p":3,"g":"N","v":11.9,"l":0.92,"r":1.08,"dl":0.97,"dr":1.03},
 {"p":3,"g":"N","v":11.8,"l":0.95,"r":1.05,"dl":0.98,"dr":1.02},
 {"p":3,"g":"N","v":11.7,"l":0.97,"r":1.03,"dl":0.99,"dr":1.01},
 {"p":3,"g":"N","v":11.6,"l":0.98,"r":1.02},
 {"p":3,"g":"N","v":11.5,"l":0.975,"r":1.025,"dl":0.99,"dr":1.01},
 {"p":3,"g":"N","v":11.4,"l":0.97,"r":1.03,"dl":0.99,"dr":1.01},
 {"p":3,"g":"N","v":11.3,"l":0.97,"r":1.03,"dl":0.99,"dr":1.01},
 {"p":3,"g":"N","v":11.2,"l":0.97,"r":1.03,"dl":0.99,"dr":1.01},
 {"p":3,"g":"N","v":11.15,"l":0.97,"r":1.03},
 {"p":3,"g":"T","v":14.65,"l":1.985,"r":2.015},
 {"p":3,"g":"T","v":14.5,"l":1.95,"r":2.05,"dl":1.98,"dr":2.02},
 {"p":3,"g":"T","v":14.4,"l":1.935,"r":2.065,"dl":1.96,"dr":2.04},
 {"p":3,"g":"T","v":14.3,"l":1.915,"r":2.085,"dl":1.94,"dr":2.06},
 {"p":3,"g":"T","v":14.2,"l":1.895,"r":2.105,"dl":1.92,"dr":2.08},
 {"p":3,"g":"T","v":14.1,"l":1.87,"r":2.13,"dl":1.9,"dr":2.1},
 {"p":3,"g":"T","v":14.0,"l":1.84,"r":2.16,"dl":1.87,"dr":2.13},
 {"p":3,"g":"T","v":13.9,"l":1.8,"r":2.2,"dl":1.83,"dr":2.17},
 {"p":3,"g":"T","v":13.8,"l":1.75,"r":2.25,"dl":1.78,"dr":2.22},
 {"p":3,"g":"T","v":13.7,"l":1.7,"r":2.3,"dl":1.74,"dr":2.26},
 {"p":3,"g":"T","v":13.6,"l":1.67,"r":2.33,"dl":1.71,"dr":2.29},
 {"p":3,"g":"T","v":13.5,"l":1.66,"r":2.34,"dl":1.7,"dr":2.3},
 {"p":3,"g":"T","v":13.4,"l":1.67,"r":2.33,"dl":1.71,"dr":2.29},
 {"p":3,"g":"T","v":13.3,"l":1.69,"r":2.31,"dl":1.73,"dr":2.27},
 {"p":3,"g":"T","v":13.2,"l":1.73,"r":2.27,"dl":1.76,"dr":2.24},
 {"p":3,"g":"T","v":13.1,"l":1.77,"r":2.23,"dl":1.8,"dr":2.2},
 {"p":3,"g":"T","v":13.0,"l":1.79,"r":2.21,"dl":1.82,"dr":2.18},
 {"p":3,"g":"T","v":12.9,"l":1.81,"r":2.19,"dl":1.84,"dr":2.16},
 {"p":3,"g":"T","v":12.8,"l":1.845,"r":2.155,"dl":1.87,"dr":2.13},
 {"p":3,"g":"T","v":12.7,"l":1.88,"r":2.12,"dl":1.9,"dr":2.1},
 {"p":3,"g":"T","v":12.6,"l":1.9,"r":2.1,"dl":1.92,"dr":2.08},
 {"p":3,"g":"T","v":12.5,"l":1.91,"r":2.09,"dl":1.93,"dr":2.07},
 {"p":3,"g":"T","v":12.4,"l":1.92,"r":2.08,"dl":1.935,"dr":2.065},
 {"p":3,"g":"T","v":12.3,"l":1.928,"r":2.072,"dl":1.945,"dr":2.055},
 {"p":3,"g":"T","v":12.2,"l":1.935,"r":2.065,"dl":1.95,"dr":2.05},
 {"p":3,"g":"T","v":12.1,"l":1.942,"r":2.058,"dl":1.955,"dr":2.045},
 {"p":3,"g":"T","v":12.0,"l":1.95,"r":2.05,"dl":1.965,"dr":2.035},
 {"p":3,"g":"T","v":11.9,"l":1.958,"r":2.042,"dl":1.97,"dr":2.03},
 {"p":3,"g":"T","v":11.8,"l":1.965,"r":2.035,"dl":1.98,"dr":2.02},
 {"p":3,"g":"T","v":11.7,"l":1.972,"r":2.028,"dl":1.985,"dr":2.015},
 {"p":3,"g":"T","v":11.6,"l":1.974,"r":2.026,"dl":1.99,"dr":2.01},
 {"p":3,"g":"T","v":11.5,"l":1.97,"r":2.03,"dl":1.985,"dr":2.015},
 {"p":3,"g":"T","v":11.4,"l":1.965,"r":2.035,"dl":1.98,"dr":2.02},
 {"p":3,"g":"T","v":11.3,"l":1.97,"r":2.03,"dl":1.985,"dr":2.015},
 {"p":3,"g":"T","v":11.2,"l":1.975,"r":2.025,"dl":1.99,"dr":2.01},
 {"p":3,"g":"T","v":11.15,"l":1.98,"r":2.02},
 {"p":4,"g":"N","v":8.2,"l":0.89,"r":1.11,"dl":0.97,"dr":1.03},
 {"p":4,"g":"N","v":7.9,"l":0.8,"r":1.2,"dl":0.94,"dr":1.06},
 {"p":4,"g":"N","v":7.6,"l":0.72,"r":1.28,"dl":0.91,"dr":1.09},
 {"p":4,"g":"N","v":7.3,"l":0.67,"r":1.33,"dl":0.9,"dr":1.1},
 {"p":4,"g":"N","v":7.0,"l":0.72,"r":1.28,"dl":0.92,"dr":1.08},
 {"p":4,"g":"N","v":6.7,"l":0.8,"r":1.2,"dl":0.94,"dr":1.06},
 {"p":4,"g":"N","v":6.5,"l":0.82,"r":1.18,"dl":0.94,"dr":1.06},
 {"p":4,"g":"N","v":6.3,"l":0.78,"r":1.22,"dl":0.94,"dr":1.06},
 {"p":4,"g":"N","v":6.0,"l":0.7,"r":1.3,"dl":0.93,"dr":1.07},
 {"p":4,"g":"N","v":5.7,"l":0.67,"r":1.33,"dl":0.92,"dr":1.08},
 {"p":4,"g":"N","v":5.4,"l":0.7,"r":1.3,"dl":0.92,"dr":1.08},
 {"p":4,"g":"N","v":5.1,"l":0.74,"r":1.26,"dl":0.93,"dr":1.07},
 {"p":4,"g":"N","v":4.8,"l":0.79,"r":1.21,"dl":0.94,"dr":1.06},
 {"p":4,"g":"N","v":4.5,"l":0.82,"r":1.18,"dl":0.94,"dr":1.06},
 {"p":4,"g":"N","v":4.2,"l":0.84,"r":1.16,"dl":0.95,"dr":1.05},
 {"p":4,"g":"N","v":3.9,"l":0.86,"r":1.14,"dl":0.96,"dr":1.04},
 {"p":4,"g":"N","v":3.6,"l":0.89,"r":1.11,"dl":0.97,"dr":1.03},
 {"p":4,"g":"N","v":3.3,"l":0.9,"r":1.1,"dl":0.97,"dr":1.03},
 {"p":4,"g":"N","v":3.0,"l":0.91,"r":1.09,"dl":0.97,"dr":1.03},
 {"p":4,"g":"N","v":2.7,"l":0.92,"r":1.08,"dl":0.98,"dr":1.02},
 {"p":4,"g":"N","v":2.5,"l":0.925,"r":1.075,"dl":0.98,"dr":1.02},
 {"p":4,"g":"N","v":2.3,"l":0.925,"r":1.075},
 {"p":4,"g":"T","v":9.82,"l":1.98,"r":2.02},
 {"p":4,"g":"T","v":9.5,"l":1.97,"r":2.03,"dl":1.985,"dr":2.015},
 {"p":4,"g":"T","v":9.2,"l":1.965,"r":2.035,"dl":1.98,"dr":2.02},
 {"p":4,"g":"T","v":8.9,"l":1.96,"r":2.04,"dl":1.975,"dr":2.025},
 {"p":4,"g":"T","v":8.6,"l":1.955,"r":2.045,"dl":1.97,"dr":2.03},
 {"p":4,"g":"T","v":8.3,"l":1.94,"r":2.06,"dl":1.955,"dr":2.045},
 {"p":4,"g":"T","v":8.0,"l":1.91,"r":2.09,"dl":1.93,"dr":2.07},
 {"p":4,"g":"T","v":7.7,"l":1.875,"r":2.125,"dl":1.9,"dr":2.1},
 {"p":4,"g":"T","v":7.4,"l":1.84,"r":2.16,"dl":1.87,"dr":2.13},
 {"p":4,"g":"T","v":7.1,"l":1.8,"r":2.2,"dl":1.83,"dr":2.17},
 {"p":4,"g":"T","v":6.8,"l":1.775,"r":2.225,"dl":1.81,"dr":2.19},
 {"p":4,"g":"T","v":6.5,"l":1.76,"r":2.24,"dl":1.8,"dr":2.2},
 {"p":4,"g":"T","v":6.2,"l":1.75,"r":2.25,"dl":1.79,"dr":2.21},
 {"p":4,"g":"T","v":5.9,"l":1.745,"r":2.255,"dl":1.78,"dr":2.22},
 {"p":4,"g":"T","v":5.6,"l":1.74,"r":2.26,"dl":1.78,"dr":2.22},
 {"p":4,"g":"T","v":5.3,"l":1.73,"r":2.27,"dl":1.77,"dr":2.23},
 {"p":4,"g":"T","v":5.0,"l":1.72,"r":2.28,"dl":1.76,"dr":2.24},
 {"p":4,"g":"T","v":4.7,"l":1.7,"r":2.3,"dl":1.74,"dr":2.26},
 {"p":4,"g":"T","v":4.4,"l":1.67,"r":2.33,"dl":1.72,"dr":2.28},
 {"p":4,"g":"T","v":4.1,"l":1.69,"r":2.31,"dl":1.73,"dr":2.27},
 {"p":4,"g":"T","v":3.8,"l":1.73,"r":2.27,"dl":1.77,"dr":2.23},
 {"p":4,"g":"T","v":3.55,"l":1.76,"r":2.24,"dl":1.8,"dr":2.2},
 {"p":4,"g":"T","v":3.3,"l":1.79,"r":2.21,"dl":1.67,"dr":2.33},
 {"p":4,"g":"T","v":3.0,"l":1.815,"r":2.185,"dl":1.84,"dr":2.16},
 {"p":4,"g":"T","v":2.75,"l":1.83,"r":2.17,"dl":1.86,"dr":2.14},
 {"p":4,"g":"T","v":2.5,"l":1.84,"r":2.16,"dl":1.87,"dr":2.13},
 {"p":4,"g":"T","v":2.25,"l":1.855,"r":2.145,"dl":1.88,"dr":2.12},
 {"p":4,"g":"T","v":2.0,"l":1.87,"r":2.13,"dl":1.75,"dr":2.25},
 {"p":4,"g":"T","v":1.75,"l":1.895,"r":2.105,"dl":1.91,"dr":2.09},
 {"p":4,"g":"T","v":1.5,"l":1.92,"r":2.08,"dl":1.94,"dr":2.06},
 {"p":4,"g":"T","v":1.25,"l":1.935,"r":2.065,"dl":1.95,"dr":2.05},
 {"p":4,"g":"T","v":1.0,"l":1.945,"r":2.055,"dl":1.83,"dr":2.17},
 {"p":4,"g":"T","v":0.75,"l":1.965,"r":2.035,"dl":1.98,"dr":2.02},
 {"p":4,"g":"T","v":0.5,"l":1.97,"r":2.03},
 {"p":4,"g":"T","v":0.3,"l":1.95,"r":2.05},
 {"p":4,"g":"T","v":0.15,"l":1.93,"r":2.07},
 {"p":4,"g":"T","v":0.0,"l":1.91,"r":2.09,"dl":1.86,"dr":2.14},
 {"p":5,"g":"N","v":14.24,"l":0.93,"r":1.07,"dl":0.97,"dr":1.03},
 {"p":5,"g":"N","v":14.1,"l":0.915,"r":1.085,"dl":0.97,"dr":1.03},
 {"p":5,"g":"N","v":13.95,"l":0.9,"r":1.1,"dl":0.965,"dr":1.035},
 {"p":5,"g":"N","v":13.8,"l":0.885,"r":1.115,"dl":0.965,"dr":1.035},
 {"p":5,"g":"N","v":13.65,"l":0.885,"r":1.115,"dl":0.965,"dr":1.035},
 {"p":5,"g":"N","v":13.5,"l":0.895,"r":1.105,"dl":0.965,"dr":1.035},
 {"p":5,"g":"N","v":13.35,"l":0.9,"r":1.1,"dl":0.965,"dr":1.035},
 {"p":5,"g":"N","v":13.2,"l":0.89,"r":1.11,"dl":0.96,"dr":1.04},
 {"p":5,"g":"N","v":13.05,"l":0.86,"r":1.14,"dl":0.95,"dr":1.05},
 {"p":5,"g":"N","v":12.9,"l":0.8,"r":1.2,"dl":0.94,"dr":1.06},
 {"p":5,"g":"N","v":12.75,"l":0.77,"r":1.23,"dl":0.93,"dr":1.07},
 {"p":5,"g":"N","v":12.6,"l":0.75,"r":1.25,"dl":0.92,"dr":1.08},
 {"p":5,"g":"N","v":12.45,"l":0.72,"r":1.28,"dl":0.92,"dr":1.08},
 {"p":5,"g":"N","v":12.3,"l":0.69,"r":1.31,"dl":0.91,"dr":1.09},
 {"p":5,"g":"N","v":12.15,"l":0.66,"r":1.34,"dl":0.9,"dr":1.1},
 {"p":5,"g":"N","v":12.0,"l":0.72,"r":1.28,"dl":0.92,"dr":1.08},
 {"p":5,"g":"N","v":11.85,"l":0.81,"r":1.19,"dl":0.94,"dr":1.06},
 {"p":5,"g":"N","v":11.7,"l":0.88,"r":1.12,"dl":0.95,"dr":1.05},
 {"p":5,"g":"N","v":11.55,"l":0.93,"r":1.07,"dl":0.97,"dr":1.03},
 {"p":5,"g":"N","v":11.5,"l":0.94,"r":1.06},
 {"p":5,"g":"T","v":15.71,"l":1.98,"r":2.02},
 {"p":5,"g":"T","v":15.5,"l":1.97,"r":2.03,"dl":1.985,"dr":2.015},
 {"p":5,"g":"T","v":15.3,"l":1.965,"r":2.035,"dl":1.98,"dr":2.02},
 {"p":5,"g":"T","v":15.1,"l":1.962,"r":2.038,"dl":1.975,"dr":2.025},
 {"p":5,"g":"T","v":14.9,"l":1.958,"r":2.042,"dl":1.97,"dr":2.03},
 {"p":5,"g":"T","v":14.7,"l":1.95,"r":2.05,"dl":1.96,"dr":2.04},
 {"p":5,"g":"T","v":14.5,"l":1.93,"r":2.07,"dl":1.94,"dr":2.06},
 {"p":5,"g":"T","v":14.3,"l":1.89,"r":2.11,"dl":1.905,"dr":2.095},
 {"p":5,"g":"T","v":14.1,"l":1.85,"r":2.15,"dl":1.87,"dr":2.13},
 {"p":5,"g":"T","v":13.9,"l":1.81,"r":2.19,"dl":1.83,"dr":2.17},
 {"p":5,"g":"T","v":13.7,"l":1.77,"r":2.23,"dl":1.8,"dr":2.2},
 {"p":5,"g":"T","v":13.5,"l":1.74,"r":2.26,"dl":1.77,"dr":2.23},
 {"p":5,"g":"T","v":13.3,"l":1.71,"r":2.29,"dl":1.745,"dr":2.255},
 {"p":5,"g":"T","v":13.1,"l":1.69,"r":2.31,"dl":1.725,"dr":2.275},
 {"p":5,"g":"T","v":12.9,"l":1.665,"r":2.335,"dl":1.7,"dr":2.3},
 {"p":5,"g":"T","v":12.7,"l":1.69,"r":2.31,"dl":1.725,"dr":2.275},
 {"p":5,"g":"T","v":12.5,"l":1.73,"r":2.27,"dl":1.76,"dr":2.24},
 {"p":5,"g":"T","v":12.3,"l":1.77,"r":2.23,"dl":1.8,"dr":2.2},
 {"p":5,"g":"T","v":12.1,"l":1.81,"r":2.19,"dl":1.83,"dr":2.17},
 {"p":5,"g":"T","v":11.9,"l":1.845,"r":2.155,"dl":1.865,"dr":2.135},
 {"p":5,"g":"T","v":11.7,"l":1.87,"r":2.13,"dl":1.89,"dr":2.11},
 {"p":5,"g":"T","v":11.5,"l":1.9,"r":2.1,"dl":1.915,"dr":2.085},
 {"p":5,"g":"T","v":11.3,"l":1.925,"r":2.075,"dl":1.94,"dr":2.06},
 {"p":5,"g":"T","v":11.1,"l":1.942,"r":2.058,"dl":1.955,"dr":2.045},
 {"p":5,"g":"T","v":10.9,"l":1.958,"r":2.042,"dl":1.97,"dr":2.03},
 {"p":5,"g":"T","v":10.7,"l":1.967,"r":2.033,"dl":1.98,"dr":2.02},
 {"p":5,"g":"T","v":10.5,"l":1.97,"r":2.03,"dl":1.98,"dr":2.02},
 {"p":5,"g":"T","v":10.3,"l":1.97,"r":2.03,"dl":1.98,"dr":2.02},
 {"p":5,"g":"T","v":10.1,"l":1.97,"r":2.03,"dl":1.98,"dr":2.02},
 {"p":5,"g":"T","v":9.9,"l":1.968,"r":2.032,"dl":1.98,"dr":2.02},
 {"p":5,"g":"T","v":9.75,"l":1.97,"r":2.03,"dl":1.985,"dr":2.015},
 {"p":5,"g":"T","v":9.65,"l":1.98,"r":2.02},
 {"p":6,"g":"N","v":8.81,"l":0.87,"r":1.13,"dl":0.96,"dr":1.04},
 {"p":6,"g":"N","v":8.5,"l":0.86,"r":1.14,"dl":0.96,"dr":1.04},
 {"p":6,"g":"N","v":8.2,"l":0.87,"r":1.13,"dl":0.96,"dr":1.04},
 {"p":6,"g":"N","v":7.9,"l":0.84,"r":1.16,"dl":0.95,"dr":1.05},
 {"p":6,"g":"N","v":7.6,"l":0.77,"r":1.23,"dl":0.94,"dr":1.06},
 {"p":6,"g":"N","v":7.3,"l":0.71,"r":1.29,"dl":0.93,"dr":1.07},
 {"p":6,"g":"N","v":7.0,"l":0.68,"r":1.32,"dl":0.92,"dr":1.08},
 {"p":6,"g":"N","v":6.7,"l":0.67,"r":1.33,"dl":0.91,"dr":1.09},
 {"p":6,"g":"N","v":6.4,"l":0.67,"r":1.33,"dl":0.91,"dr":1.09},
 {"p":6,"g":"N","v":6.1,"l":0.68,"r":1.32,"dl":0.91,"dr":1.09},
 {"p":6,"g":"N","v":5.8,"l":0.73,"r":1.27,"dl":0.92,"dr":1.08},
 {"p":6,"g":"N","v":5.5,"l":0.76,"r":1.24,"dl":0.92,"dr":1.08},
 {"p":6,"g":"N","v":5.2,"l":0.785,"r":1.215,"dl":0.93,"dr":1.07},
 {"p":6,"g":"N","v":4.9,"l":0.8,"r":1.2,"dl":0.94,"dr":1.06},
 {"p":6,"g":"N","v":4.6,"l":0.81,"r":1.19,"dl":0.94,"dr":1.06},
 {"p":6,"g":"N","v":4.3,"l":0.835,"r":1.165,"dl":0.95,"dr":1.05},
 {"p":6,"g":"N","v":4.0,"l":0.87,"r":1.13,"dl":0.96,"dr":1.04},
 {"p":6,"g":"N","v":3.8,"l":0.9,"r":1.1,"dl":0.97,"dr":1.03},
 {"p":6,"g":"N","v":3.6,"l":0.914,"r":1.086},
 {"p":6,"g":"T","v":11.79,"l":1.983,"r":2.017},
 {"p":6,"g":"T","v":11.5,"l":1.978,"r":2.022,"dl":1.988,"dr":2.012},
 {"p":6,"g":"T","v":11.2,"l":1.97,"r":2.03,"dl":1.982,"dr":2.018},
 {"p":6,"g":"T","v":10.9,"l":1.96,"r":2.04,"dl":1.975,"dr":2.025},
 {"p":6,"g":"T","v":10.6,"l":1.953,"r":2.047,"dl":1.965,"dr":2.035},
 {"p":6,"g":"T","v":10.3,"l":1.943,"r":2.057,"dl":1.955,"dr":2.045},
 {"p":6,"g":"T","v":10.0,"l":1.925,"r":2.075,"dl":1.94,"dr":2.06},
 {"p":6,"g":"T","v":9.7,"l":1.9,"r":2.1,"dl":1.915,"dr":2.085},
 {"p":6,"g":"T","v":9.4,"l":1.865,"r":2.135,"dl":1.885,"dr":2.115},
 {"p":6,"g":"T","v":9.1,"l":1.835,"r":2.165,"dl":1.855,"dr":2.145},
 {"p":6,"g":"T","v":8.8,"l":1.815,"r":2.185,"dl":1.84,"dr":2.16},
 {"p":6,"g":"T","v":8.5,"l":1.795,"r":2.205,"dl":1.82,"dr":2.18},
 {"p":6,"g":"T","v":8.2,"l":1.78,"r":2.22,"dl":1.81,"dr":2.19},
 {"p":6,"g":"T","v":7.9,"l":1.765,"r":2.235,"dl":1.795,"dr":2.205},
 {"p":6,"g":"T","v":7.6,"l":1.75,"r":2.25,"dl":1.78,"dr":2.22},
 {"p":6,"g":"T","v":7.3,"l":1.73,"r":2.27,"dl":1.76,"dr":2.24},
 {"p":6,"g":"T","v":7.0,"l":1.71,"r":2.29,"dl":1.745,"dr":2.255},
 {"p":6,"g":"T","v":6.7,"l":1.695,"r":2.305,"dl":1.73,"dr":2.27},
 {"p":6,"g":"T","v":6.4,"l":1.68,"r":2.32,"dl":1.72,"dr":2.28},
 {"p":6,"g":"T","v":6.1,"l":1.66,"r":2.34,"dl":1.7,"dr":2.3},
 {"p":6,"g":"T","v":5.8,"l":1.7,"r":2.3,"dl":1.735,"dr":2.265},
 {"p":6,"g":"T","v":5.5,"l":1.735,"r":2.265,"dl":1.765,"dr":2.235},
 {"p":6,"g":"T","v":5.2,"l":1.755,"r":2.245,"dl":1.785,"dr":2.215},
 {"p":6,"g":"T","v":4.9,"l":1.775,"r":2.225,"dl":1.8,"dr":2.2},
 {"p":6,"g":"T","v":4.6,"l":1.795,"r":2.205,"dl":1.82,"dr":2.18},
 {"p":6,"g":"T","v":4.3,"l":1.815,"r":2.185,"dl":1.84,"dr":2.16},
 {"p":6,"g":"T","v":4.0,"l":1.835,"r":2.165,"dl":1.855,"dr":2.145},
 {"p":6,"g":"T","v":3.7,"l":1.86,"r":2.14,"dl":1.88,"dr":2.12},
 {"p":6,"g":"T","v":3.4,"l":1.875,"r":2.125,"dl":1.89,"dr":2.11},
 {"p":6,"g":"T","v":3.1,"l":1.895,"r":2.105,"dl":1.91,"dr":2.09},
 {"p":6,"g":"T","v":2.8,"l":1.915,"r":2.085,"dl":1.93,"dr":2.07},
 {"p":6,"g":"T","v":2.5,"l":1.935,"r":2.065,"dl":1.95,"dr":2.05},
 {"p":6,"g":"T","v":2.2,"l":1.95,"r":2.05,"dl":1.965,"dr":2.035},
 {"p":6,"g":"T","v":1.9,"l":1.962,"r":2.038,"dl":1.975,"dr":2.025},
 {"p":6,"g":"T","v":1.6,"l":1.972,"r":2.028,"dl":1.985,"dr":2.015},
 {"p":6,"g":"T","v":1.3,"l":1.977,"r":2.023,"dl":1.99,"dr":2.01},
 {"p":6,"g":"T","v":1.0,"l":1.98,"r":2.02}
]
},
"config": {
 "view": {"stroke": "#505050", "strokeWidth": 1.8},
 "axis": {"grid": false, "domainColor": "black", "domainWidth": 2, "tickColor": "black", "tickWidth": 2, "tickSize": 6, "labelFont": "Liberation Sans", "labelFontWeight": "bold", "labelFontSize": 13, "labelColor": "black", "titleFont": "Liberation Sans", "titleFontWeight": "bold", "titleFontSize": 12.5, "titleColor": "black", "labelOverlap": false, "labelFlush": false},
 "axisY": {"labelPadding": 3, "titlePadding": 5},
 "axisX": {"labelAngle": -40, "labelAlign": "right", "labelBaseline": "middle", "labelPadding": 3},
 "title": {"font": "Liberation Sans", "fontSize": 17, "fontWeight": "bold", "color": "black"}
}
}
